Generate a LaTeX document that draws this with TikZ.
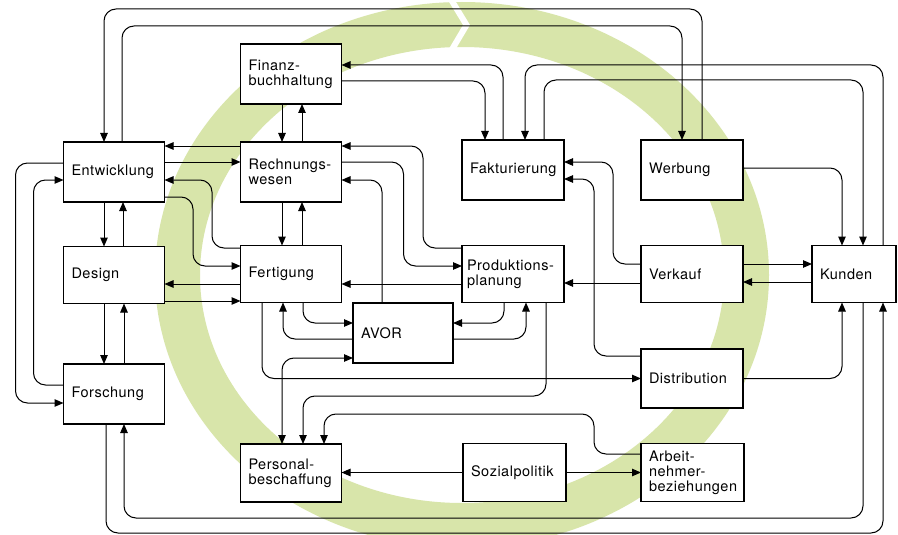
\documentclass[tikz,border=0pt]{standalone}
\usepackage{fontspec}
\setmainfont{TeX Gyre Heros}[LetterSpace=3.5]
\usetikzlibrary{arrows.meta}
\definecolor{ringgreen}{RGB}{216,229,170}
\begin{document}
\begin{tikzpicture}[x=1pt,y=-1pt,
  blk/.style={draw, fill=white, line width=1.2pt, inner xsep=8pt, inner ysep=0pt,
    outer sep=0pt, minimum height=#1, text width=85pt, align=left,
    font=\fontsize{14.5}{15}\selectfont},
  blk/.default=60pt,
  con/.style={line width=1pt, rounded corners=12pt, -{Triangle[length=9pt,width=7.5pt]}},
  biarr/.style={line width=1pt, rounded corners=12pt, {Triangle[length=9pt,width=7.5pt]}-{Triangle[length=9pt,width=7.5pt]}}
]
\useasboundingbox (0,0) rectangle (898,535);
\fill[white] (0,0) rectangle (898,535);
% green ring
\fill[ringgreen, even odd rule] (462,275) ellipse [x radius=307, y radius=273]
      (462,275) ellipse [x radius=262, y radius=228];
\fill[white] (446,-3) -- (463,25) -- (447,52) -- (454,52) -- (470,25) -- (453,-3) -- cycle;

% boxes
\node[blk] (ent) at (114,172) {Entwicklung};
\node[blk=57pt] (des) at (114,275) {Design};
\node[blk] (for) at (114,394) {Forschung};
\node[blk] (fin) at (291,74) {Finanz-\\buchhaltung};
\node[blk] (rw) at (291,172) {Rechnungs-\\wesen};
\node[blk=57pt] (fer) at (291,274) {Fertigung};
\node[blk=58pt] (per) at (291,473) {Personal-\\beschaffung};
\node[blk, text width=84pt] (avor) at (403,333) {AVOR};
\node[blk, text width=86pt] (fak) at (513,170) {Fakturierung};
\node[blk=57pt, text width=92pt, inner xsep=5pt] (pp) at (513,274) {Produktions-\\planung};
\node[blk=58pt, text width=87pt] (soz) at (514.5,472.5) {Sozialpolitik};
\node[blk, text width=86pt] (wer) at (692,170) {Werbung};
\node[blk=57pt, text width=86pt] (ver) at (692,274) {Verkauf};
\node[blk=59pt, text width=86pt] (dis) at (692,378.5) {Distribution};
\node[blk=58pt, text width=87pt] (arb) at (692.5,472.5) {Arbeit-\\nehmer-\\beziehungen};
\node[blk=57pt, text width=68pt] (kun) at (854,274) {Kunden};

% top connectors
\draw[con] ([xshift=10pt]wer.north) -- ++(0,-131) -| ([xshift=-10pt]ent.north);
\draw[con] ([xshift=8pt]ent.north) -- ++(0,-116) -| ([xshift=-10pt]wer.north);
\draw[con] ([xshift=-10pt]fak.north) |- ([yshift=9pt]fin.east);
\draw[con] ([yshift=-7pt]fin.east) -| ([xshift=-28pt]fak.north);
\draw[con] ([xshift=29pt]kun.north) -- ++(0,-180.5) -| ([xshift=12pt]fak.north);
\draw[con] ([xshift=31pt]fak.north) -- ++(0,-60) -| ([xshift=9pt]kun.north);
\draw[con] ([yshift=2pt]wer.east) -| ([xshift=-12pt]kun.north);

% finance / accounting
\draw[con] ([xshift=-9pt]fin.south) -- ([xshift=-9pt]rw.north);
\draw[con] ([xshift=11pt]rw.north) -- ([xshift=11pt]fin.south);
\draw[con] ([yshift=26pt]rw.west) -- ([yshift=26pt]rw.west -| ent.east);
\draw[con] ([yshift=10pt]ent.east) -- ([yshift=10pt]ent.east -| rw.west);
\draw[con] ([yshift=26pt]fer.west) -- ++(-28.5,0) |- ([yshift=-8pt]ent.east);
\draw[con] ([yshift=-25pt]ent.east) -- ++(28.5,0) |- ([yshift=8pt]fer.west);

% left column
\draw[con] ([xshift=-10pt]ent.south) -- ([xshift=-10pt]des.north);
\draw[con] ([xshift=9pt]des.north) -- ([xshift=9pt]ent.south);
\draw[con] ([xshift=-10pt]des.south) -- ([xshift=-10pt]for.north);
\draw[con] ([xshift=10pt]for.north) -- ([xshift=10pt]des.south);
\draw[con] ([yshift=9pt]ent.west) -- ++(-48,0) |- ([yshift=-9pt]for.west);
\draw[con] ([yshift=9pt]for.west) -- ++(-30,0) |- ([yshift=-8pt]ent.west);
\draw[con] ([yshift=-10pt]fer.west) -- ([yshift=-10pt]fer.west -| des.east);
\draw[con] ([yshift=-26pt]des.east) -- ([yshift=-26pt]des.east -| fer.west);

% middle
\draw[con] ([xshift=-9pt]rw.south) -- ([xshift=-9pt]fer.north);
\draw[con] ([xshift=11pt]fer.north) -- ([xshift=11pt]rw.south);
\draw[con] ([yshift=26pt]pp.west) -- ++(-39,0) |- ([yshift=26pt]rw.east);
\draw[con] ([yshift=10pt]rw.east) -- ++(62,0) |- ([yshift=8pt]pp.west);
\draw[con] ([xshift=-21pt]avor.north) |- ([yshift=-8pt]rw.east);
\draw[con] ([yshift=-10pt]pp.west) -- ([yshift=-10pt]pp.west -| fer.east);
\draw[con] ([xshift=12pt]fer.south) |- ([yshift=10pt]avor.west);
\draw[con] ([yshift=-6pt]avor.west) -| ([xshift=-8pt]fer.south);
\draw[con] ([xshift=-9pt]pp.south) |- ([yshift=10pt]avor.east);
\draw[con] ([yshift=-6pt]avor.east) -| ([xshift=13pt]pp.south);
\draw[con] ([xshift=-29pt]fer.south) |- (dis.west);
\draw[biarr] ([yshift=-25pt]avor.west) -| ([xshift=-9pt]per.north);
\draw[con] ([xshift=33pt]pp.south) -- ++(0,93.5) -| ([xshift=12pt]per.north);
\draw[con] ([yshift=18.5pt]arb.west) -- ++(-47,0) -- ++(0,-40) -| ([xshift=33pt]per.north);
\draw[con] (soz.west) -- (soz.west -| per.east);
\draw[con] (soz.east) -- (soz.east -| arb.west);

% right side
\draw[con] ([yshift=10pt]ver.west) -- ++(-28,0) |- ([yshift=8pt]fak.east);
\draw[con] ([yshift=22.5pt]dis.west) -- ++(-47,0) |- ([yshift=-9pt]fak.east);
\draw[con] ([yshift=-9pt]ver.west) -- ([yshift=-9pt]ver.west -| pp.east);
\draw[con] ([yshift=10pt]ver.east) -- ([yshift=10pt]ver.east -| kun.west);
\draw[con] ([yshift=-8pt]kun.west) -- ([yshift=-8pt]kun.west -| ver.east);
\draw[con] (dis.east) -| ([xshift=-12pt]kun.south);

% bottom loops
\draw[con] ([xshift=9pt]kun.south) -- ++(0,215.5) -| ([xshift=10pt]for.south);
\draw[con] ([xshift=-8pt]for.south) -- ++(0,109) -| ([xshift=29pt]kun.south);
\end{tikzpicture}
\end{document}
